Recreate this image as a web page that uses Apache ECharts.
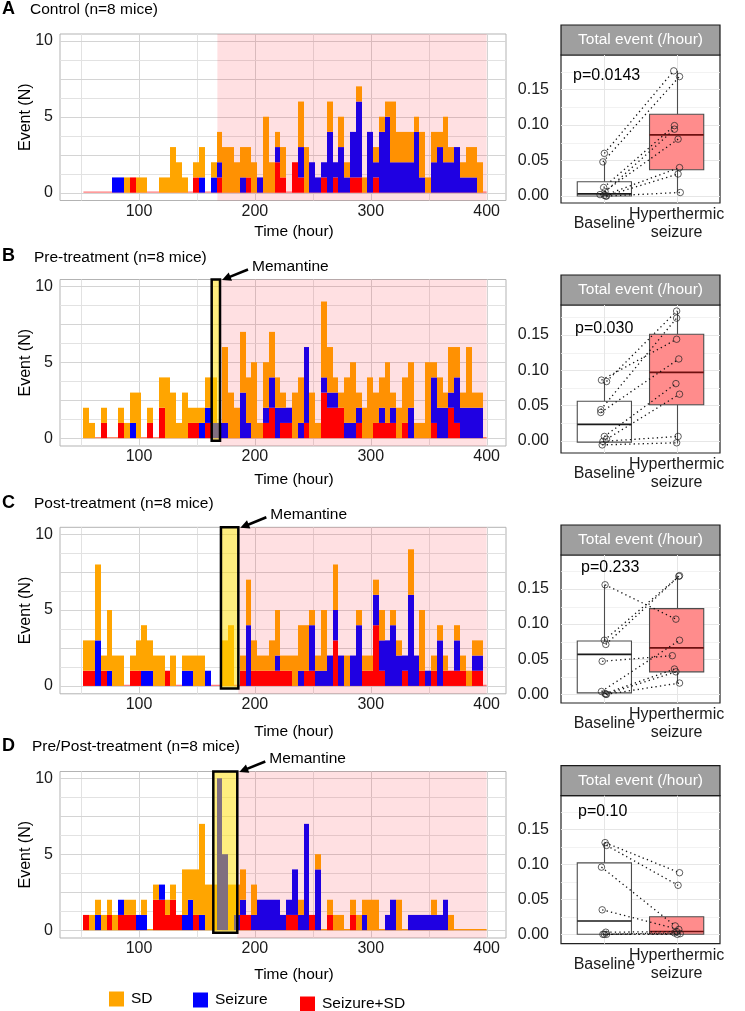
<!DOCTYPE html>
<html><head><meta charset="utf-8">
<script src="https://cdn.jsdelivr.net/npm/echarts@6/dist/echarts.min.js"></script>
<style>html,body{margin:0;padding:0;background:#fff}#c{width:745px;height:1011px}</style>
</head><body><div id="c"></div>
<script>
// ---------- DATA ----------
const binStart = 52, binWidth = 5, baseEnd = 400;   // 5-hour bins starting at 52 h
const histXTicks = [100, 200, 300, 400];
const histYTicks = [0, 5, 10];
const histGridX = [50, 100, 150, 200, 250, 300, 350, 400];
const histGridY = [0, 1.25, 2.5, 3.75, 5, 6.25, 7.5, 8.75, 10];
const boxGridY = [0, 0.025, 0.05, 0.075, 0.1, 0.125, 0.15, 0.175];
const boxYTicks = [0, 0.05, 0.1, 0.15];
const boxCategories = ['Baseline', 'Hyperthermic\nseizure'];
const panelLetters = ['A', 'B', 'C', 'D'];
const panelTitles = ['Control (n=8 mice)', 'Pre-treatment (n=8 mice)', 'Post-treatment (n=8 mice)', 'Pre/Post-treatment (n=8 mice)'];
const pValues = ['p=0.0143', 'p=0.030', 'p=0.233', 'p=0.10'];
const seriesNames = ['Seizure+SD', 'Seizure', 'SD'];

// event counts per bin: Seizure+SD (mix), Seizure (seiz), SD (sd)
const A_mix  = [0,0,0,0,0, 0,0,0,1,0, 0,0,0,0,0, 0,0,0,0,1, 0,0,0,1,0, 0,0,0,1,0, 0,0,0,2,1, 0,2,1,0,0, 0,1,0,1,0, 0,1,1,0,0, 1,0,0,0,0, 0,0,0,0,0, 0,0,0,0,0, 0,0,0,0];
const A_seiz = [0,0,0,0,0, 1,1,0,0,0, 0,0,0,0,0, 0,0,0,0,0, 1,0,1,1,0, 0,0,1,0,0, 1,0,0,1,0, 0,0,2,0,2, 1,1,4,1,3, 1,3,5,0,4, 1,4,5,2,2, 2,2,4,1,0, 2,3,2,2,3, 1,1,1,0];
const A_sd   = [0,0,0,0,0, 0,0,1,0,1, 1,0,0,1,1, 3,2,1,0,1, 2,0,1,2,3, 3,2,2,2,2, 0,5,2,1,2, 0,0,3,3,0, 0,0,2,0,2, 1,0,1,1,0, 1,1,1,4,2, 2,2,1,3,1, 2,1,3,1,0, 1,2,2,2];

const B_mix  = [0,0,0,1,0, 0,1,0,0,0, 0,1,0,2,0, 0,0,0,1,1, 0,1,0,0,0, 0,0,0,0,0, 0,1,2,0,1, 1,0,0,1,0, 0,3,2,2,2, 0,0,1,0,0, 1,1,1,1,0, 1,0,0,0,0, 1,0,0,2,1, 0,0,0,0];
const B_seiz = [0,0,0,0,0, 0,0,0,1,0, 0,0,0,0,0, 0,0,0,0,0, 1,1,1,1,1, 0,0,3,1,0, 0,1,2,2,1, 1,0,1,5,0, 0,1,1,1,0, 1,1,1,0,0, 0,1,0,1,0, 0,2,0,0,0, 3,2,2,1,3, 2,2,2,2];
const B_sd   = [2,1,0,1,0, 0,1,1,2,3, 0,1,0,2,4, 3,1,3,1,1, 1,2,3,0,5, 3,2,4,3,5, 1,3,3,2,1, 0,3,3,0,3, 1,5,3,1,1, 3,4,1,2,4, 2,2,4,1,2, 3,3,1,1,5, 1,2,1,3,2, 1,4,1,1];

const C_mix  = [1,1,0,1,0, 0,0,0,1,1, 0,0,0,0,1, 0,0,0,0,0, 0,0,0,0,0, 0,0,1,0,1, 1,1,1,1,1, 1,0,0,1,1, 0,0,0,3,0, 0,0,0,1,1, 4,1,0,0,0, 1,0,0,1,0, 1,0,1,1,1, 1,0,1,1];
const C_seiz = [0,0,3,0,1, 0,0,0,0,0, 1,1,0,0,0, 0,0,1,1,0, 0,1,0,0,0, 0,0,0,4,0, 0,0,0,1,0, 0,0,1,0,3, 1,1,2,2,2, 0,2,4,0,0, 2,2,3,4,2, 1,6,2,0,1, 0,3,0,0,2, 0,0,1,1];
const C_sd   = [2,2,5,1,4, 2,2,0,1,2, 3,2,2,2,0, 2,0,1,1,2, 2,0,0,0,3, 4,0,1,3,2, 1,1,2,3,1, 1,2,3,3,1, 1,4,0,3,0, 2,0,1,1,1, 1,2,0,1,1, 0,3,0,4,0, 1,1,1,0,1, 1,1,1,1];

const D_mix  = [1,0,0,0,1, 0,1,1,1,0, 0,0,2,2,1, 2,1,0,0,1, 0,0,0,0,0, 0,0,1,1,0, 0,0,0,0,0, 1,1,0,0,1, 0,0,1,0,0, 0,1,0,0,0, 0,0,0,0,0, 0,0,0,0,0, 0,0,0,0,0, 0,0,0,0];
const D_seiz = [0,0,1,0,0, 0,1,0,0,1, 1,0,0,1,0, 0,0,1,2,0, 1,0,0,10,5, 0,1,1,0,1, 2,2,2,2,1, 1,3,1,7,0, 4,0,0,0,0, 0,0,0,1,0, 0,0,1,2,0, 0,1,1,1,1, 1,1,2,0,0, 0,0,0,0];
const D_sd   = [0,1,1,1,1, 1,0,1,1,0, 1,0,1,0,1, 1,0,3,2,3, 6,3,3,0,0, 3,2,2,0,2, 0,0,0,0,0, 0,0,1,0,0, 1,0,1,1,1, 0,1,1,1,2, 2,0,0,0,2, 0,0,0,0,0, 1,0,0,1,0, 0,0,0,0];

// hyperthermic-seizure period start (h) and memantine window (h)
const hyperStart = [167.6, 169.9, 185.7, 184.8];
const hyperEnd = 400;
const memantineStart = [null, 162.7, 170.7, 164.1];
const memantineEnd   = [null, 169.9, 185.7, 184.8];

// box stats [min, Q1, median, Q3, max]
const A_boxBase  = [0.000, 0.000, 0.003, 0.020, 0.048];
const A_boxHyper = [0.005, 0.037, 0.086, 0.115, 0.176];
const B_boxBase  = [-0.002, -0.002, 0.023, 0.056, 0.084];
const B_boxHyper = [-0.004, 0.051, 0.097, 0.151, 0.184];
const C_boxBase  = [0.000, 0.002, 0.057, 0.076, 0.156];
const C_boxHyper = [0.016, 0.032, 0.066, 0.122, 0.169];
const D_boxBase  = [0.000, 0.000, 0.019, 0.102, 0.131];
const D_boxHyper = [0.000, 0.000, 0.004, 0.025, 0.025];

// paired per-mouse values (events/hour), same order = same mouse
const A_ptsBase  = [0.060, 0.048, 0.012, 0.006, 0.002, 0.001, 0.000, 0.000];
const A_ptsHyper = [0.176, 0.168, 0.099, 0.094, 0.080, 0.040, 0.031, 0.005];
const B_ptsBase  = [0.086, 0.084, 0.044, 0.040, 0.006, 0.002, -0.001, -0.006];
const B_ptsHyper = [0.144, 0.184, 0.174, 0.116, 0.081, 0.066, 0.006, -0.003];
const C_ptsBase  = [0.156, 0.077, 0.071, 0.047, 0.004, 0.001, 0.000, 0.000];
const C_ptsHyper = [0.107, 0.169, 0.168, 0.055, 0.077, 0.036, 0.032, 0.016];
const D_ptsBase  = [0.131, 0.127, 0.096, 0.035, 0.003, 0.000, 0.000, 0.000];
const D_ptsHyper = [0.088, 0.070, 0.012, 0.007, 0.004, 0.002, 0.001, 0.000];

// horizontal jitter of the plotted points (category units)
const A_jitBase  = [0.00, -0.02, -0.01, 0.01, -0.06, 0.00, 0.02, 0.03];
const A_jitHyper = [-0.04, 0.04, -0.03, -0.03, 0.02, 0.04, 0.02, 0.05];
const B_jitBase  = [-0.04, 0.03, -0.05, -0.05, 0.00, 0.03, -0.02, -0.03];
const B_jitHyper = [0.00, 0.00, 0.00, 0.03, -0.01, 0.04, 0.02, 0.00];
const C_jitBase  = [0.01, 0.00, 0.02, -0.03, -0.04, 0.01, 0.02, 0.03];
const C_jitHyper = [-0.01, 0.04, 0.03, -0.06, 0.04, -0.03, -0.01, 0.04];
const D_jitBase  = [0.01, 0.03, -0.04, -0.03, 0.02, 0.00, 0.03, -0.02];
const D_jitHyper = [0.04, 0.02, -0.02, 0.03, 0.00, -0.03, 0.05, 0.01];

// ---------- LAYOUT / STYLE ----------
const FONT = "'Liberation Sans', Arial, Helvetica, sans-serif";
const COLORS = {'Seizure+SD': '#ff0000', 'Seizure': '#0000ff', 'SD': '#ffa500'};
const baseLineColor = ['#ff7a7a', '#ff8a6a', '#ff7a7a', '#ffa500'];
const histTop = [34, 279.5, 527.3, 771.5], histH = 166.5, histLeft = 60, histRight = 239;
const histXMin = 31.8, histXMax = 416.7, histYMin = -0.52, histYMax = 10.45, memBottom = -0.17;
const boxTop = [55, 305, 555, 795.7], boxH = 148, boxLeft = 561, boxRight = 25;
const boxYMin = [-0.0098, -0.0175, -0.0124, -0.0134];
const boxYMax = [0.1983, 0.1926, 0.1984, 0.198];
const titleY = [10, 257.5, 504, 747];
const titleX = [30, 34, 34, 32];
const timeY = [232, 480, 731.7, 975];
const pPos = [[573, 76], [575, 329], [581, 568], [578, 812]];

const panels = [
  {mix: A_mix, seiz: A_seiz, sd: A_sd, bb: A_boxBase, bh: A_boxHyper, pb: A_ptsBase, ph: A_ptsHyper, jb: A_jitBase, jh: A_jitHyper},
  {mix: B_mix, seiz: B_seiz, sd: B_sd, bb: B_boxBase, bh: B_boxHyper, pb: B_ptsBase, ph: B_ptsHyper, jb: B_jitBase, jh: B_jitHyper},
  {mix: C_mix, seiz: C_seiz, sd: C_sd, bb: C_boxBase, bh: C_boxHyper, pb: C_ptsBase, ph: C_ptsHyper, jb: C_jitBase, jh: C_jitHyper},
  {mix: D_mix, seiz: D_seiz, sd: D_sd, bb: D_boxBase, bh: D_boxHyper, pb: D_ptsBase, ph: D_ptsHyper, jb: D_jitBase, jh: D_jitHyper}
];

const grids = new Array(8), xAxes = new Array(8), yAxes = new Array(8), series = [], graphics = [];
const near = (arr, v) => arr.some(t => Math.abs(t - v) < 1e-9);

panels.forEach((P, p) => {
  // ----- histogram panel -----
  grids[p] = {left: histLeft, right: histRight, top: histTop[p], height: histH, show: true,
    borderColor: '#b3b3b3', borderWidth: 1, backgroundColor: '#fff'};
  xAxes[p] = {type: 'value', gridIndex: p, min: histXMin, max: histXMax, splitNumber: 4,
    axisLine: {show: false}, axisTick: {show: false}, splitLine: {show: false},
    axisLabel: {fontSize: 16, color: '#1a1a1a', margin: 3, fontFamily: FONT,
      formatter: v => near(histXTicks, v) ? String(Math.round(v)) : ''}};
  yAxes[p] = {type: 'value', gridIndex: p, min: histYMin, max: histYMax, splitNumber: 2,
    name: 'Event (N)', nameLocation: 'middle', nameGap: 26, nameMoveOverlap: false,
    nameTextStyle: {fontSize: 16, color: '#000', fontFamily: FONT},
    axisLine: {show: false}, axisTick: {show: false}, splitLine: {show: false},
    axisLabel: {fontSize: 16, color: '#1a1a1a', margin: 7, fontFamily: FONT,
      formatter: v => near(histYTicks, v) ? String(Math.round(v)) : ''}};

  // grid lines + zero baseline
  series.push({type: 'custom', xAxisIndex: p, yAxisIndex: p, z: 1, silent: true, data: [[0, 0]],
    renderItem: (params, api) => {
      const ch = [];
      histGridX.forEach(v => {
        const a = api.coord([v, histYMin]), b = api.coord([v, histYMax]);
        const x = Math.round(a[0]) + 0.5;
        ch.push({type: 'line', shape: {x1: x, y1: a[1], x2: x, y2: b[1]},
          style: {stroke: v % 100 === 0 ? '#d4d4d4' : '#e2e2e2', lineWidth: 1}});
      });
      histGridY.forEach(v => {
        const a = api.coord([histXMin, v]), b = api.coord([histXMax, v]);
        const y = Math.round(a[1]) + 0.5;
        ch.push({type: 'line', shape: {x1: a[0], y1: y, x2: b[0], y2: y},
          style: {stroke: (v % 2.5 === 0) ? '#d4d4d4' : '#e2e2e2', lineWidth: 1}});
      });
      const s = api.coord([binStart, 0]), e = api.coord([baseEnd, 0]);
      ch.push({type: 'line', shape: {x1: s[0], y1: s[1] - 0.5, x2: e[0], y2: e[1] - 0.5},
        style: {stroke: baseLineColor[p], lineWidth: 1.2}});
      return {type: 'group', children: ch};
    }});

  // stacked bars: Seizure+SD (bottom), Seizure, SD (top)
  const layers = [P.mix, P.seiz, P.sd];
  const base = P.mix.map(() => 0);
  layers.forEach((counts, li) => {
    const name = seriesNames[li];
    const data = [];
    counts.forEach((c, i) => {
      if (c > 0) data.push([binStart + i * binWidth, binStart + (i + 1) * binWidth, base[i], base[i] + c]);
    });
    counts.forEach((c, i) => { base[i] += c; });
    series.push({type: 'custom', name, xAxisIndex: p, yAxisIndex: p, z: 3,
      itemStyle: {color: COLORS[name]}, encode: {x: [0, 1], y: [2, 3]}, data,
      renderItem: (params, api) => {
        const a = api.coord([api.value(0), api.value(3)]);
        const b = api.coord([api.value(1), api.value(2)]);
        const x0 = Math.round(a[0]), x1 = Math.round(b[0]);
        return {type: 'rect', shape: {x: x0, y: a[1], width: x1 - x0, height: b[1] - a[1]},
          style: {fill: COLORS[name]}};
      }});
  });

  // hyperthermic period shading + memantine window
  series.push({type: 'custom', xAxisIndex: p, yAxisIndex: p, z: 5, silent: true, clip: false, data: [[0, 0]],
    renderItem: (params, api) => {
      const ch = [];
      const a = api.coord([hyperStart[p], histYMax]), b = api.coord([hyperEnd, histYMin]);
      ch.push({type: 'rect', shape: {x: a[0], y: a[1], width: b[0] - a[0], height: b[1] - a[1]},
        style: {fill: 'rgba(255,0,20,0.12)'}});
      if (memantineStart[p] != null) {
        const m0 = api.coord([memantineStart[p], histYMax]), m1 = api.coord([memantineEnd[p], memBottom]);
        ch.push({type: 'rect', shape: {x: m0[0], y: m0[1], width: m1[0] - m0[0], height: m1[1] - m0[1]},
          style: {fill: 'rgba(255,222,0,0.5)', stroke: '#000', lineWidth: 2.5}});
        const cx = m1[0], cy = m0[1];
        const hx = cx + 2, hy = cy + 0.5, tx = cx + 28, ty = cy - 10;
        const dx = hx - tx, dy = hy - ty, len = Math.hypot(dx, dy);
        const ux = dx / len, uy = dy / len, nx = -uy, ny = ux;
        const bx = hx - 9 * ux, by = hy - 9 * uy;
        ch.push({type: 'line', shape: {x1: tx, y1: ty, x2: bx + 2 * ux, y2: by + 2 * uy},
          style: {stroke: '#000', lineWidth: 2.6}});
        ch.push({type: 'polygon', shape: {points: [[hx, hy], [bx + 4.5 * nx, by + 4.5 * ny], [bx - 4.5 * nx, by - 4.5 * ny]]},
          style: {fill: '#000'}});
        ch.push({type: 'text', style: {text: 'Memantine', x: cx + 32, y: cy - 13, fontSize: 15.5,
          fontFamily: FONT, fill: '#000', align: 'left', verticalAlign: 'middle'}});
      }
      return {type: 'group', children: ch};
    }});

  // ----- box plot panel -----
  const g = 4 + p;
  grids[g] = {left: boxLeft, right: boxRight, top: boxTop[p], height: boxH, show: true,
    borderColor: '#222', borderWidth: 1.2, backgroundColor: '#fff'};
  xAxes[g] = {type: 'value', gridIndex: g, min: 0.4, max: 2.6, splitNumber: 2,
    axisLine: {show: false}, axisTick: {show: false}, splitLine: {show: false},
    axisLabel: {fontSize: 16, color: '#1a1a1a', margin: 21, fontFamily: FONT, verticalAlign: 'middle', lineHeight: 18,
      formatter: v => Math.abs(v - 1) < 1e-9 ? boxCategories[0] : (Math.abs(v - 2) < 1e-9 ? boxCategories[1] : '')}};
  yAxes[g] = {type: 'value', gridIndex: g, min: boxYMin[p], max: boxYMax[p], splitNumber: 4,
    axisLine: {show: false}, axisTick: {show: false}, splitLine: {show: false},
    axisLabel: {fontSize: 16, color: '#1a1a1a', margin: 12, fontFamily: FONT,
      formatter: v => near(boxYTicks, v) ? v.toFixed(2) : ''}};

  series.push({type: 'custom', xAxisIndex: g, yAxisIndex: g, z: 1, silent: true, data: [[1, 0]],
    renderItem: (params, api) => {
      const ch = [];
      boxGridY.forEach((v, k) => {
        const a = api.coord([0.4, v]), b = api.coord([2.6, v]);
        const y = Math.round(a[1]) + 0.5;
        ch.push({type: 'line', shape: {x1: a[0], y1: y, x2: b[0], y2: y},
          style: {stroke: k % 2 === 0 ? '#e6e6e6' : '#efefef', lineWidth: k % 2 === 0 ? 1 : 0.8}});
      });
      [1, 2].forEach(v => {
        const a = api.coord([v, boxYMin[p]]), b = api.coord([v, boxYMax[p]]);
        const x = Math.round(a[0]) + 0.5;
        ch.push({type: 'line', shape: {x1: x, y1: a[1], x2: x, y2: b[1]}, style: {stroke: '#e6e6e6', lineWidth: 1}});
      });
      return {type: 'group', children: ch};
    }});

  const boxFill = ['#ffffff', '#ff8c8c'];
  const medColor = ['#1a1a1a', '#6e1010'];
  series.push({type: 'custom', xAxisIndex: g, yAxisIndex: g, z: 2, silent: true,
    encode: {x: 0, y: [1, 2, 3, 4, 5]},
    data: [[1].concat(P.bb), [2].concat(P.bh)],
    renderItem: (params, api) => {
      const i = params.dataIndex;
      const x = api.value(0);
      const v = [1, 2, 3, 4, 5].map(d => api.value(d));
      const hw = 0.375;
      const L = api.coord([x - hw, v[3]]), R = api.coord([x + hw, v[1]]);
      const top = api.coord([x, v[4]]), q3 = api.coord([x, v[3]]), q1 = api.coord([x, v[1]]), bot = api.coord([x, v[0]]);
      const med = api.coord([x, v[2]]);
      const xc = Math.round(top[0]) + 0.5;
      return {type: 'group', children: [
        {type: 'line', shape: {x1: xc, y1: top[1], x2: xc, y2: q3[1]}, style: {stroke: '#4d4d4d', lineWidth: 1.1}},
        {type: 'line', shape: {x1: xc, y1: q1[1], x2: xc, y2: bot[1]}, style: {stroke: '#4d4d4d', lineWidth: 1.1}},
        {type: 'rect', shape: {x: L[0], y: L[1], width: R[0] - L[0], height: R[1] - L[1]},
          style: {fill: boxFill[i], stroke: '#4d4d4d', lineWidth: 1.1}},
        {type: 'line', shape: {x1: L[0], y1: med[1], x2: R[0], y2: med[1]}, style: {stroke: medColor[i], lineWidth: 1.7}}
      ]};
    }});

  series.push({type: 'custom', xAxisIndex: g, yAxisIndex: g, z: 3, silent: true,
    encode: {x: [0, 2], y: [1, 3]},
    data: P.pb.map((b, k) => [1 + P.jb[k], b, 2 + P.jh[k], P.ph[k]]),
    renderItem: (params, api) => {
      const a = api.coord([api.value(0), api.value(1)]), b = api.coord([api.value(2), api.value(3)]);
      return {type: 'line', shape: {x1: a[0], y1: a[1], x2: b[0], y2: b[1]},
        style: {stroke: '#111', lineWidth: 1.3, lineDash: [1.3, 3.2]}};
    }});

  series.push({type: 'scatter', xAxisIndex: g, yAxisIndex: g, z: 4, silent: true, symbol: 'circle', symbolSize: 6.5,
    itemStyle: {color: 'rgba(255,255,255,0)', borderColor: '#222', borderWidth: 0.9},
    data: P.pb.map((b, k) => [1 + P.jb[k], b]).concat(P.ph.map((h, k) => [2 + P.jh[k], h]))});

  // ----- texts -----
  graphics.push({type: 'text', left: 2, top: titleY[p] - 10, style: {text: panelLetters[p], font: 'bold 18px ' + FONT, fill: '#000'}});
  graphics.push({type: 'text', x: titleX[p], y: titleY[p], style: {text: panelTitles[p], fontSize: 15.5, fontFamily: FONT, fill: '#000', verticalAlign: 'middle'}});
  graphics.push({type: 'text', x: 294, y: timeY[p], style: {text: 'Time (hour)', fontSize: 15.5, fontFamily: FONT, fill: '#000', align: 'center', verticalAlign: 'middle'}});
  graphics.push({type: 'rect', shape: {x: boxLeft, y: boxTop[p] - 30, width: 745 - boxRight - boxLeft, height: 30},
    style: {fill: '#9f9f9f', stroke: '#1a1a1a', lineWidth: 1.2}});
  graphics.push({type: 'text', x: boxLeft + (745 - boxRight - boxLeft) / 2, y: boxTop[p] - 15,
    style: {text: 'Total event (/hour)', fontSize: 15.5, fontFamily: FONT, fill: '#fff', align: 'center', verticalAlign: 'middle'}});
  graphics.push({type: 'text', x: pPos[p][0], y: pPos[p][1], z: 10,
    style: {text: pValues[p], fontSize: 16, fontFamily: FONT, fill: '#000', verticalAlign: 'middle'}});
});

const legendBase = {orient: 'horizontal', icon: 'rect', itemWidth: 15, itemHeight: 15, selectedMode: false, padding: 0,
  textStyle: {fontSize: 15.5, fontFamily: FONT, color: '#000', padding: [0, 0, 0, 2]}};
const legends = [
  Object.assign({}, legendBase, {data: ['SD'], left: 109, top: 991}),
  Object.assign({}, legendBase, {data: ['Seizure'], left: 193, top: 992}),
  Object.assign({}, legendBase, {data: ['Seizure+SD'], left: 300, top: 996})
];

const chart = echarts.init(document.getElementById('c'), null, {renderer: 'canvas'});
chart.setOption({
  animation: false,
  backgroundColor: '#fff',
  textStyle: {fontFamily: FONT},
  grid: grids, xAxis: xAxes, yAxis: yAxes,
  legend: legends,
  series: series,
  graphic: graphics
});
</script>
</body></html>
